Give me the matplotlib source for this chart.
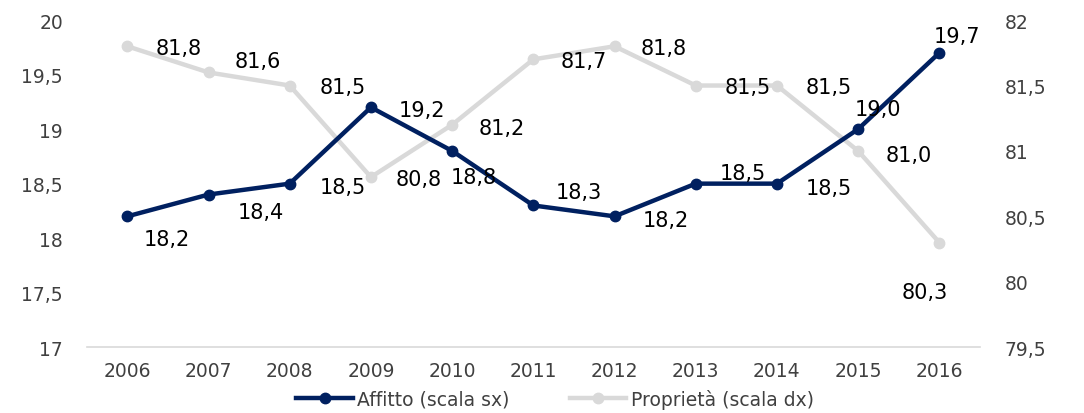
import numpy as np, matplotlib; matplotlib.use('Agg')
import matplotlib.pyplot as plt
from matplotlib.ticker import FuncFormatter, MultipleLocator

anni = ['2006','2007','2008','2009','2010','2011','2012','2013','2014','2015','2016']
affitto = [18.2, 18.4, 18.5, 19.2, 18.8, 18.3, 18.2, 18.5, 18.5, 19.0, 19.7]
proprieta = [81.8, 81.6, 81.5, 80.8, 81.2, 81.7, 81.8, 81.5, 81.5, 81.0, 80.3]

# label offsets in pixels (excel-ish placement)
off_aff = [(39,-23),(52,-17),(53,-3),(51,-3),(22,-26),(45,13),(51,-4),(47,11),(52,-4),(20,20),(18,17)]
off_pro = [(51,-2),(49,11),(53,-1),(48,-2),(50,-3),(50,-2),(49,-2),(52,-1),(52,-1),(51,-4),(-15,-49)]

NAVY = '#002060'; GREY = '#d9d9d9'; TXT = '#404040'
plt.rcParams['font.family'] = ['DejaVu Sans']

def fmt(v, _=None):
    s = f"{v:.1f}".replace('.', ',')
    return s[:-2] if s.endswith(',0') else s

fig = plt.figure(figsize=(10.84, 4.14), dpi=100)
ax = fig.add_axes([0.080, 0.159, 0.824, 0.790])
ax2 = ax.twinx()
x = np.arange(len(anni))

l2, = ax2.plot(x, proprieta, '-o', color=GREY, lw=3.2, ms=7.5, label='Proprietà (scala dx)')
l1, = ax.plot(x, affitto, '-o', color=NAVY, lw=3.2, ms=7.5, label='Affitto (scala sx)')
ax.set_zorder(ax2.get_zorder() + 1); ax.patch.set_visible(False)

for i, v in enumerate(affitto):
    ax.annotate(f"{v:.1f}".replace('.', ','), (i, v), xytext=off_aff[i], textcoords='offset pixels',
                ha='center', va='center', fontsize=15, color='black')
for i, v in enumerate(proprieta):
    ax2.annotate(f"{v:.1f}".replace('.', ','), (i, v), xytext=off_pro[i], textcoords='offset pixels',
                 ha='center', va='center', fontsize=15, color='black')

ax.set_xlim(-0.5, len(anni) - 0.5)
ax.set_ylim(17, 20); ax2.set_ylim(79.5, 82)
ax.yaxis.set_major_locator(MultipleLocator(0.5)); ax2.yaxis.set_major_locator(MultipleLocator(0.5))
ax.yaxis.set_major_formatter(FuncFormatter(fmt)); ax2.yaxis.set_major_formatter(FuncFormatter(fmt))
ax.set_xticks(x); ax.set_xticklabels(anni)

for a in (ax, ax2):
    for s in a.spines.values():
        s.set_visible(False)
    a.tick_params(length=0, labelsize=13.5, colors=TXT)
ax.spines['bottom'].set_visible(True); ax.spines['bottom'].set_color(GREY); ax.spines['bottom'].set_linewidth(1.2)
ax.tick_params(axis='y', pad=17); ax2.tick_params(axis='y', pad=18)
ax.tick_params(axis='x', pad=10)

fig.legend(handles=[l1, l2], loc='center', bbox_to_anchor=(0.512, 0.034), ncol=2, frameon=False,
           fontsize=13.5, handlelength=3.0, handletextpad=0.25, columnspacing=3.2, labelcolor=TXT)

fig.savefig('out.png', dpi=100)
